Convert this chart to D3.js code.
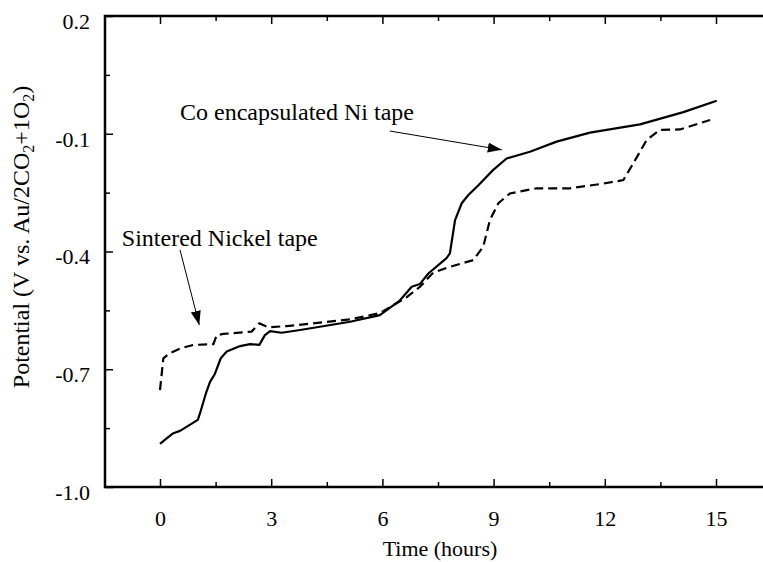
<!DOCTYPE html>
<html>
<head>
<meta charset="utf-8">
<script src="https://cdn.jsdelivr.net/npm/d3@7"></script>
<style>
  body { margin: 0; background: #fff; }
  svg { display: block; }
  text { font-family: "Liberation Serif", "Times New Roman", serif; fill: #000; }
</style>
</head>
<body>
<div id="chart"></div>
<script>
// time axis (hours) and potential (V)
var timeCo = [0, 0.18, 0.36, 0.54, 1.02, 1.08, 1.24, 1.35, 1.48, 1.64, 1.80, 2.16, 2.43, 2.68, 2.83, 2.97, 3.28, 3.78, 4.23, 4.68, 5.13, 5.93, 6.47, 6.79, 7.01, 7.24, 7.73, 7.82, 7.96, 8.14, 8.32, 8.59, 8.99, 9.35, 9.98, 10.70, 11.60, 12.95, 14.12, 15.02];
var coNi = [-0.890, -0.876, -0.863, -0.857, -0.829, -0.812, -0.761, -0.732, -0.712, -0.672, -0.655, -0.641, -0.636, -0.638, -0.613, -0.603, -0.607, -0.600, -0.593, -0.586, -0.579, -0.562, -0.525, -0.490, -0.483, -0.456, -0.417, -0.405, -0.320, -0.277, -0.256, -0.231, -0.192, -0.163, -0.146, -0.120, -0.097, -0.076, -0.045, -0.016];

var timeNi = [0, 0.09, 0.27, 0.54, 0.90, 1.44, 1.53, 1.71, 2.47, 2.68, 2.92, 3.42, 4.14, 5.13, 5.93, 6.65, 7.01, 7.37, 7.82, 8.45, 8.72, 8.90, 9.13, 9.44, 10.16, 11.06, 11.96, 12.50, 12.77, 13.13, 13.49, 14.03, 14.84];
var sintered = [-0.753, -0.672, -0.659, -0.647, -0.638, -0.636, -0.613, -0.610, -0.604, -0.583, -0.593, -0.590, -0.583, -0.573, -0.557, -0.517, -0.490, -0.454, -0.439, -0.422, -0.388, -0.320, -0.277, -0.252, -0.239, -0.239, -0.227, -0.218, -0.175, -0.116, -0.090, -0.089, -0.065];

var xTicks = [0, 3, 6, 9, 12, 15];
var xMinor = [1.5, 4.5, 7.5, 10.5, 13.5];
var yTicks = [0.2, -0.1, -0.4, -0.7, -1.0];
var yMinor = [0.05, -0.25, -0.55, -0.85];

// labels with arrow start / tip, in data units
var notes = [
  {label: "Co encapsulated Ni tape", tx: 0.54, ty: -0.065, x1: 6.20, y1: -0.093, x2: 9.22, y2: -0.141},
  {label: "Sintered Nickel tape", tx: -1.03, ty: -0.386, x1: 0.54, y1: -0.396, x2: 1.06, y2: -0.587}
];

var width = 763, height = 562;
var plotLeft = 105, plotTop = 16, plotBottom = 487, plotRight = 775;

var svg = d3.select("#chart").append("svg")
  .attr("width", width)
  .attr("height", height);

var x = d3.scaleLinear().domain([0, 15]).range([160, 716]);
var y = d3.scaleLinear().domain([-1.0, 0.2]).range([plotBottom, plotTop]);

// axes, ticks pointing into the plot
function drawAxis(axis, tx, ty, labels) {
  var g = svg.append("g")
    .attr("transform", "translate(" + tx + "," + ty + ")")
    .call(axis);
  g.select(".domain").remove();
  g.selectAll("line").attr("stroke", "#000").attr("stroke-width", 1.5);
  if (!labels) g.selectAll("text").remove();
  return g;
}

var fmt = function(d) { return d.toFixed(1); };

var gx = drawAxis(d3.axisBottom(x).tickValues(xTicks).tickSize(-8).tickPadding(23), 0, plotBottom, true);
gx.selectAll("text").style("font-size", "22px");
drawAxis(d3.axisBottom(x).tickValues(xMinor).tickSize(-5), 0, plotBottom, false);
drawAxis(d3.axisTop(x).tickValues(xTicks).tickSize(-8), 0, plotTop, false);
drawAxis(d3.axisTop(x).tickValues(xMinor).tickSize(-5), 0, plotTop, false);

var gy = drawAxis(d3.axisLeft(y).tickValues(yTicks).tickFormat(fmt).tickSize(-8).tickPadding(15), plotLeft, 0, true);
gy.selectAll("text").style("font-size", "22px").attr("dy", "0.56em");
drawAxis(d3.axisLeft(y).tickValues(yMinor).tickSize(-5), plotLeft, 0, false);

// frame
svg.append("path")
  .attr("d", "M" + plotRight + "," + plotTop + "H" + plotLeft + "V" + plotBottom + "H" + plotRight)
  .attr("fill", "none")
  .attr("stroke", "#000")
  .attr("stroke-width", 2.5);

// series
var line = d3.line()
  .x(function(d) { return x(d[0]); })
  .y(function(d) { return y(d[1]); });

svg.append("path")
  .datum(d3.zip(timeCo, coNi))
  .attr("d", line)
  .attr("fill", "none")
  .attr("stroke", "#000")
  .attr("stroke-width", 2.2)
  .attr("stroke-linejoin", "round");

svg.append("path")
  .datum(d3.zip(timeNi, sintered))
  .attr("d", line)
  .attr("fill", "none")
  .attr("stroke", "#000")
  .attr("stroke-width", 2.2)
  .attr("stroke-dasharray", "9,5");

// annotations
svg.append("defs").append("marker")
  .attr("id", "head")
  .attr("viewBox", "0 0 14 10")
  .attr("refX", 14).attr("refY", 5)
  .attr("markerWidth", 14).attr("markerHeight", 10)
  .attr("markerUnits", "userSpaceOnUse")
  .attr("orient", "auto")
  .append("path")
  .attr("d", "M0,0L14,5L0,10Z")
  .attr("fill", "#000");

notes.forEach(function(n) {
  svg.append("text")
    .attr("x", x(n.tx))
    .attr("y", y(n.ty))
    .style("font-size", "24px")
    .text(n.label);
  svg.append("line")
    .attr("x1", x(n.x1)).attr("y1", y(n.y1))
    .attr("x2", x(n.x2)).attr("y2", y(n.y2))
    .attr("stroke", "#000")
    .attr("stroke-width", 1)
    .attr("marker-end", "url(#head)");
});

// axis titles
svg.append("text")
  .attr("x", 440)
  .attr("y", 556)
  .attr("text-anchor", "middle")
  .style("font-size", "22px")
  .text("Time (hours)");

var yt = svg.append("text")
  .attr("transform", "translate(29,237) rotate(-90)")
  .attr("text-anchor", "middle")
  .style("font-size", "24px");
yt.append("tspan").text("Potential (V vs. Au/2CO");
yt.append("tspan").attr("dy", 5).style("font-size", "16px").text("2");
yt.append("tspan").attr("dy", -5).text("+1O");
yt.append("tspan").attr("dy", 5).style("font-size", "16px").text("2");
yt.append("tspan").attr("dy", -5).text(")");
</script>
</body>
</html>
